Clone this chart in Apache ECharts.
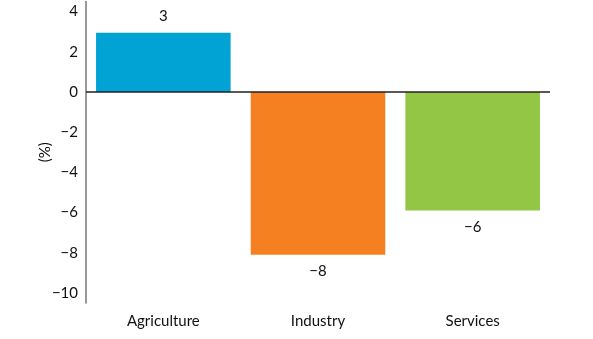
<!DOCTYPE html>
<html><head><meta charset="utf-8">
<script src="https://cdn.jsdelivr.net/npm/echarts@6/dist/echarts.min.js"></script>
<style>html,body{margin:0;padding:0;background:#fff}#c{width:593px;height:339px}</style>
</head><body><div id="c"></div>
<script>
var categories = ['Agriculture', 'Industry', 'Services'];
var values = [2.95, -8.1, -5.9];
var barColors = ['#00A3D4', '#F48022', '#92C644'];
var yTicks = [-10, -8, -6, -4, -2, 0, 2, 4];
var yName = '(%)';

var fmt = function (v) { var r = Math.round(v); return r < 0 ? '\u2212' + Math.abs(r) : String(r); };
var font = 'Lato';
var txt = '#111';
var fs = 15;

var chart = echarts.init(document.getElementById('c'), null, { renderer: 'canvas' });
chart.setOption({
  animation: false,
  textStyle: { fontFamily: font },
  grid: { left: 86, right: 43, top: 1.5, bottom: 36 },
  xAxis: {
    type: 'category', data: categories,
    axisLine: { show: false, onZero: false }, axisTick: { show: false },
    axisLabel: { color: txt, fontSize: fs, fontFamily: font, margin: 11 }
  },
  yAxis: {
    type: 'value', min: -10.5, max: 4.5,
    name: yName, nameLocation: 'middle', nameGap: 33, nameRotate: 90, nameMoveOverlap: false,
    nameTextStyle: { color: txt, fontSize: fs, fontFamily: font },
    axisLine: { show: true, lineStyle: { color: '#777', width: 1.5 } },
    axisTick: { show: false },
    splitLine: { show: false },
    axisLabel: { color: txt, fontSize: fs, fontFamily: font, margin: 8, customValues: yTicks,
      formatter: function (v) { return fmt(v); } }
  },
  series: [{
    type: 'bar', barWidth: '87%',
    data: values.map(function (v, i) {
      return { value: v, itemStyle: { color: barColors[i] },
        label: { show: true, position: v >= 0 ? 'top' : 'bottom', distance: 9,
          color: txt, fontSize: fs, fontFamily: font, formatter: function () { return fmt(v); } } };
    }),
    markLine: {
      silent: true, symbol: 'none', label: { show: false },
      lineStyle: { color: '#231f20', width: 1.5, type: 'solid' },
      data: [{ yAxis: 0 }]
    }
  }]
});
</script></body></html>
